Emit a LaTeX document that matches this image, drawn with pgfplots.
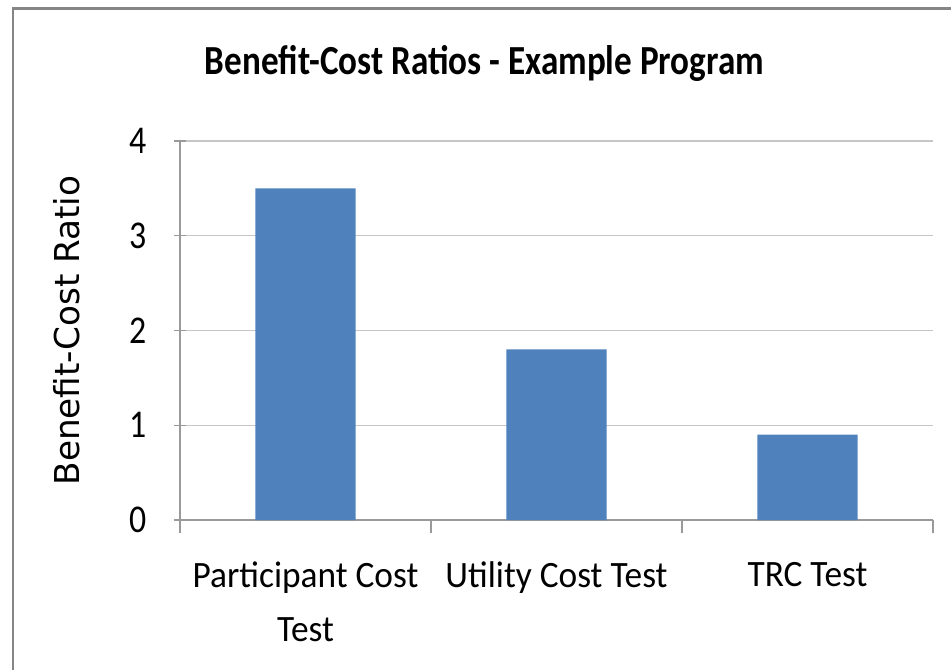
\documentclass[border=0pt]{standalone}
\usepackage{pgfplots}
\pgfplotsset{compat=1.18}
\usepackage{fontspec}
\setmainfont{Carlito}
\newfontfamily\titlefont{Carlito}[FakeStretch=0.85]
\newfontfamily\catfont{Carlito}[FakeStretch=0.95]
\newfontfamily\tickfont{Carlito}[FakeStretch=0.86]
\newfontfamily\ylabfont{DejaVu Sans}
\definecolor{barblue}{HTML}{4F81BD}
\definecolor{gridgray}{HTML}{C6C6C6}
\definecolor{axisgray}{HTML}{9A9A9A}
\definecolor{framegray}{HTML}{858585}
\begin{document}
\begin{tikzpicture}[x=0.75pt,y=0.75pt]
\useasboundingbox (0,0) rectangle (951,669);
\draw[framegray, line width=1.6pt] (13,-20) -- (13,660.5) -- (990,660.5);
\node[anchor=base, font=\titlefont\fontsize{31}{34}\selectfont\bfseries] at (484.5,594) {Benefit-Cost Ratios - Example Program};
\begin{axis}[
  at={(135pt,111.75pt)}, anchor=south west,
  scale only axis, width=564.75pt, height=284.25pt,
  xmin=-0.5, xmax=2.5, ymin=0, ymax=4,
  ytick={0,1,2,3,4},
  xtick={0,1,2},
  xticklabels={{Participant Cost\\Test},{Utility Cost Test},{TRC Test}},
  minor xtick={-0.5,0.5,1.5,2.5},
  major x tick style={draw=none},
  tick align=outside,
  major tick length=9pt,
  minor tick length=9.75pt,
  tick style={axisgray, line width=0.8pt},
  axis lines=left,
  axis line style={-, draw=axisgray, line width=0.8pt},
  ymajorgrids, grid style={gridgray, line width=0.8pt},
  xticklabel style={align=center, font=\catfont\fontsize{27.9}{40}\selectfont, yshift=-19pt},
  yticklabel style={font=\tickfont\fontsize{29.5}{32}\selectfont, xshift=-17pt},
  /pgf/number format/assume math mode=true,
  ylabel={Benefit-Cost Ratio},
  ylabel style={at={(axis description cs:-0.150,0.5)}, anchor=center, rotate=0, font=\ylabfont\fontsize{25.7}{30}\selectfont},
  ybar, bar width=0.4,
  clip=false,
]
\addplot[fill=barblue, draw=none] coordinates {(0,3.5) (1,1.8) (2,0.9)};
\end{axis}
\end{tikzpicture}
\end{document}
